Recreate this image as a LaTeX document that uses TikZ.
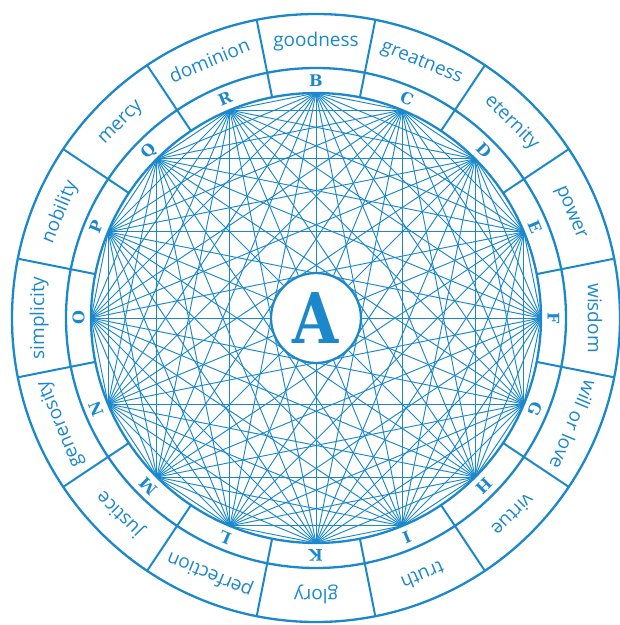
\documentclass[tikz,border=0pt]{standalone}
\usepackage{fontspec}
\newfontfamily\wordfont{Open Sans}
\newfontfamily\letterfont{DejaVu Serif}
\definecolor{llblue}{RGB}{28,136,204}
\begin{document}
\begin{tikzpicture}[
  ringline/.style={draw=llblue, line width=2.3pt},
  sepline/.style={draw=llblue, line width=2pt},
  chord/.style={draw=llblue, line width=0.95pt},
  word/.style={text=llblue, font=\wordfont\fontsize{19}{20}\selectfont, inner sep=0pt, text height=10.2pt, text depth=0pt, anchor=center},
  letter/.style={text=llblue, font=\letterfont\bfseries\fontsize{16}{18}\selectfont, inner sep=0pt, text height=11.6pt, text depth=0pt, anchor=center},
  hub/.style={circle, draw=llblue, line width=2.3pt, fill=white, minimum size=90pt, inner sep=0pt, text=llblue, font=\letterfont\bfseries\fontsize{70}{72}\selectfont}
]
\useasboundingbox (-316pt,-307pt) rectangle (304pt,318pt);
% points on the inner circle
\foreach \i in {0,...,15} {
  \coordinate (p\i) at ({90-22.5*\i}:225pt);
}
% all chords
\foreach \i in {0,...,14} {
  \pgfmathtruncatemacro\s{\i+1}
  \foreach \j in {\s,...,15} {
    \draw[chord] (p\i) -- (p\j);
  }
}
% rings
\draw[ringline] (0,0) circle (225pt);
\draw[ringline] (0,0) circle (250pt);
\draw[ringline] (0,0) circle (304pt);
% separators
\foreach \i in {0,...,15} {
  \coordinate (si\i) at ({101.25-22.5*\i}:225pt);
  \coordinate (so\i) at ({101.25-22.5*\i}:304pt);
  \draw[sepline] (si\i) -- (so\i);
}
% letters and words
\foreach \w/\l [count=\i from 0] in {goodness/B, greatness/C, eternity/D, power/E, wisdom/F, will or love/G, virtue/H, truth/I, glory/K, perfection/L, justice/M, generosity/N, simplicity/O, nobility/P, mercy/Q, dominion/R} {
  \pgfmathsetmacro\ang{90-22.5*\i}
  \node[letter, rotate=\ang-90] (L\l) at (\ang:237.5pt) {\l};
  \node[word, rotate=\ang-90] (W\l) at (\ang:277pt) {\w};
}
% centre
\node[hub] (A) at (0,0) {\scalebox{0.85}[1]{A}};
\end{tikzpicture}
\end{document}
